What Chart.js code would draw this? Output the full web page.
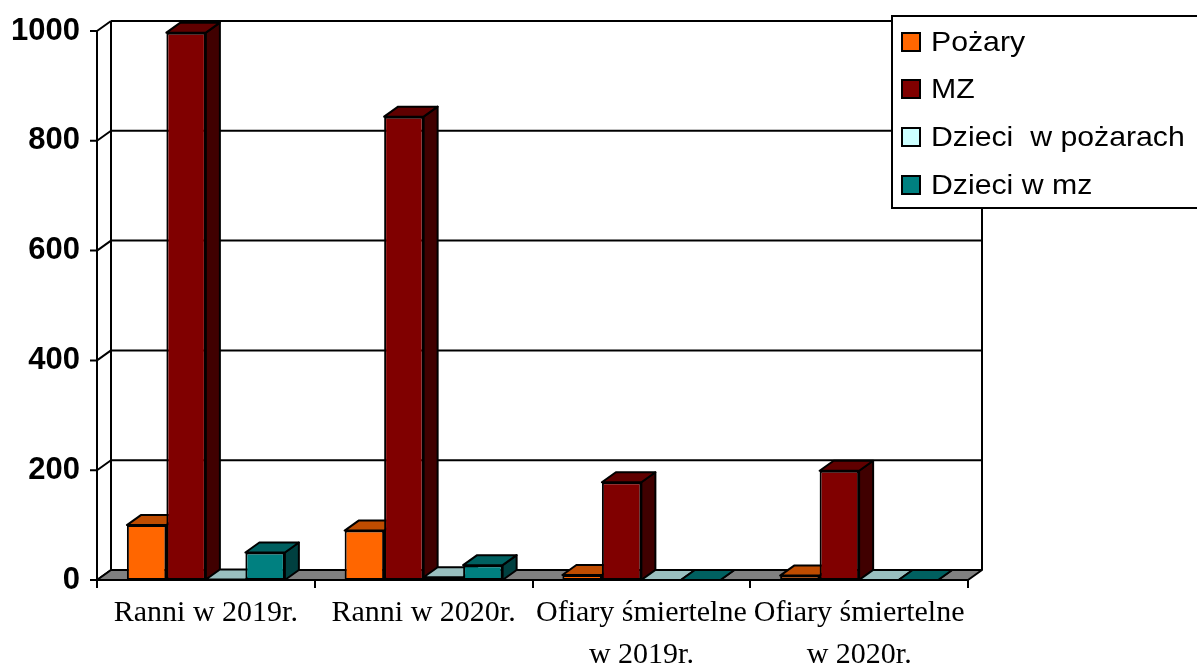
<!DOCTYPE html>
<html>
<head>
<meta charset="utf-8">
<script src="https://cdn.jsdelivr.net/npm/chart.js@4.4.1/dist/chart.umd.min.js"></script>
<style>
  html, body { margin: 0; padding: 0; background: #fff; }
</style>
</head>
<body>
<canvas id="chart" width="1197" height="668"></canvas>
<script>
const categories = [
  'Ranni w 2019r.',
  'Ranni w 2020r.',
  ['Ofiary śmiertelne', 'w 2019r.'],
  ['Ofiary śmiertelne', 'w 2020r.']
];
const seriesNames = ['Pożary', 'MZ', 'Dzieci  w pożarach', 'Dzieci w mz'];
const pozary = [100, 90, 9, 8];
const mz = [997, 844, 178, 199];
const dzieciPozary = [1, 5, 0, 0];
const dzieciMz = [50, 27, 0, 0];
const yTicks = [0, 200, 400, 600, 800, 1000];

const frontColors = ['#ff6600', '#800000', '#ccffff', '#008080'];
const topColors = ['#bf4c00', '#600000', '#99bfbf', '#006060'];
const sideColors = ['#803300', '#400000', '#668080', '#004040'];

const DX = 14; // depth offset of the 3d look
const DY = 10;

const poly = (ctx, pts, fill) => {
  ctx.beginPath();
  ctx.moveTo(pts[0][0], pts[0][1]);
  pts.slice(1).forEach(([x, y]) => ctx.lineTo(x, y));
  ctx.closePath();
  ctx.fillStyle = fill;
  ctx.fill();
  ctx.stroke();
};

const line = (ctx, pts) => {
  ctx.beginPath();
  ctx.moveTo(pts[0][0], pts[0][1]);
  pts.slice(1).forEach(([x, y]) => ctx.lineTo(x, y));
  ctx.stroke();
};

const depthPlugin = {
  id: 'depth3d',
  beforeDatasetsDraw(chart) {
    const { ctx, chartArea: a, scales: { y } } = chart;
    ctx.save();
    ctx.lineWidth = 2;
    ctx.strokeStyle = '#000';
    ctx.lineJoin = 'round';
    // back wall
    yTicks.forEach((v) => {
      if (v === 0) return;
      const py = y.getPixelForValue(v);
      line(ctx, [[a.left + DX, py - DY], [a.right + DX, py - DY]]);
    });
    line(ctx, [[a.left + DX, a.top - DY], [a.left + DX, a.bottom - DY]]);
    line(ctx, [[a.right + DX, a.top - DY], [a.right + DX, a.bottom - DY]]);
    // front axis + side wall ticks
    line(ctx, [[a.left, a.top], [a.left, a.bottom]]);
    yTicks.forEach((v) => {
      const py = y.getPixelForValue(v);
      line(ctx, [[a.left - 7, py], [a.left, py], [a.left + DX, py - DY]]);
    });
    // floor
    const y0 = y.getPixelForValue(0);
    poly(ctx, [[a.left, y0], [a.left + DX, y0 - DY], [a.right + DX, y0 - DY], [a.right, y0]], '#808080');
    // tops and sides of bars
    categories.forEach((c, j) => {
      chart.data.datasets.forEach((ds, i) => {
        const el = chart.getDatasetMeta(i).data[j];
        const L = el.x - el.width / 2;
        const R = el.x + el.width / 2;
        const t = el.y;
        const b = el.base;
        poly(ctx, [[R, t], [R + DX, t - DY], [R + DX, b - DY], [R, b]], sideColors[i]);
        poly(ctx, [[L, t], [L + DX, t - DY], [R + DX, t - DY], [R, t]], topColors[i]);
      });
    });
    ctx.restore();
  }
};

const legendPlugin = {
  id: 'boxLegend',
  afterDraw(chart) {
    const { ctx } = chart;
    ctx.save();
    ctx.lineWidth = 2;
    ctx.strokeStyle = '#000';
    ctx.fillStyle = '#fff';
    ctx.fillRect(892, 16, 330, 192);
    ctx.strokeRect(892, 16, 330, 192);
    const rows = [42, 89, 137, 185];
    chart.data.datasets.forEach((ds, i) => {
      ctx.fillStyle = ds.backgroundColor;
      ctx.fillRect(902, rows[i] - 9, 18, 18);
      ctx.strokeRect(902, rows[i] - 9, 18, 18);
      ctx.save();
      ctx.translate(931, rows[i] + 1);
      ctx.scale(1.08, 1);
      ctx.fillStyle = '#000';
      ctx.font = '28px "Liberation Sans", Arial, sans-serif';
      ctx.textBaseline = 'middle';
      ctx.fillText(ds.label, 0, 0);
      ctx.restore();
    });
    ctx.restore();
  }
};

const values = [pozary, mz, dzieciPozary, dzieciMz];

new Chart(document.getElementById('chart').getContext('2d'), {
  type: 'bar',
  data: {
    labels: categories,
    datasets: seriesNames.map((label, i) => ({
      label,
      data: values[i],
      backgroundColor: frontColors[i],
      borderColor: '#000',
      borderWidth: 2,
      borderSkipped: false,
      categoryPercentage: 0.7256,
      barPercentage: 1
    }))
  },
  options: {
    responsive: false,
    animation: false,
    layout: { padding: { top: 31, right: 229, bottom: 0, left: 0 } },
    plugins: {
      legend: { display: false },
      tooltip: { enabled: false }
    },
    scales: {
      x: {
        afterFit: (s) => { s.height = 88; },
        grid: {
          display: true,
          drawOnChartArea: false,
          drawTicks: true,
          tickLength: 8,
          lineWidth: 2,
          color: (c) => c.index === categories.length ? 'rgba(0,0,0,0)' : '#000'
        },
        border: { display: false },
        ticks: {
          color: '#000',
          padding: 4,
          maxRotation: 0,
          autoSkip: false,
          font: { family: '"Liberation Serif", "Times New Roman", serif', size: 30, lineHeight: 1.4 }
        }
      },
      y: {
        min: 0,
        max: 1000,
        afterFit: (s) => {
          s.width = 97;
          s.paddingTop = 0;
          s.paddingBottom = 0;
        },
        grid: { display: false, drawTicks: false },
        border: { display: false },
        ticks: {
          stepSize: 200,
          color: '#000',
          padding: 17,
          callback: (v) => String(v),
          font: { family: '"Liberation Sans", Arial, sans-serif', size: 31, weight: 'bold' }
        }
      }
    }
  },
  plugins: [depthPlugin, legendPlugin]
});
</script>
</body>
</html>
